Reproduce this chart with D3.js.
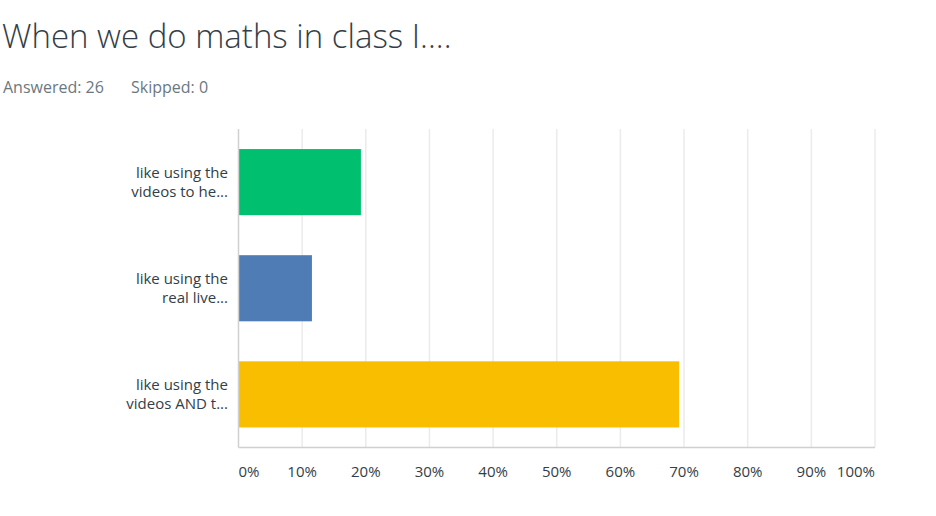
<!DOCTYPE html>
<html>
<head>
<meta charset="utf-8">
<script src="https://cdn.jsdelivr.net/npm/d3@7"></script>
<style>
  body { margin: 0; background: #fff; }
  text { font-family: "Open Sans", "Noto Sans", sans-serif; }
</style>
</head>
<body>
<svg width="936" height="516"></svg>
<script>
// question summary
var title = "When we do maths in class I....";
var answered = 26;
var skipped = 0;

// answer choices (two-line truncated labels, as shown)
var categories = ["videos", "live", "both"];
var labelLines = [
	["like using the", "videos to he..."],
	["like using the", "real live..."],
	["like using the", "videos AND t..."]
];
var counts = [5, 3, 18];
var colors = ["#00bf6f", "#507cb6", "#f9be00"];
var ticks = [0, 0.1, 0.2, 0.3, 0.4, 0.5, 0.6, 0.7, 0.8, 0.9, 1];

var svg = d3.select("svg");

svg.append("text")
	.attr("x", 2)
	.attr("y", 48)
	.attr("fill", "#333e48")
	.style("font-size", "33px")
	.style("font-weight", 300)
	.text(title);

svg.append("text")
	.attr("x", 3)
	.attr("y", 93)
	.attr("fill", "#6b787f")
	.style("font-size", "16px")
	.text("Answered: " + answered);

svg.append("text")
	.attr("x", 131)
	.attr("y", 93)
	.attr("fill", "#6b787f")
	.style("font-size", "16px")
	.text("Skipped: " + skipped);

var plotLeft = 238.5, plotRight = 875, plotTop = 129, plotBottom = 447.5;

var x = d3.scaleLinear().domain([0, 1]).range([plotLeft, plotRight]);
var y = d3.scaleBand()
	.domain(categories)
	.range([plotTop, plotBottom])
	.paddingInner(0.377)
	.paddingOuter(0.189);

// vertical grid
svg.append("g")
	.selectAll("line")
	.data(ticks.slice(1))
	.enter()
	.append("line")
	.attr("x1", function (d) { return x(d); })
	.attr("x2", function (d) { return x(d); })
	.attr("y1", plotTop)
	.attr("y2", plotBottom)
	.attr("stroke", "#ebebeb")
	.attr("stroke-width", 1.5);

// bars
svg.append("g")
	.selectAll("rect")
	.data(counts)
	.enter()
	.append("rect")
	.attr("x", x(0))
	.attr("y", function (d, i) { return y(categories[i]); })
	.attr("width", function (d) { return x(d / answered) - x(0); })
	.attr("height", y.bandwidth())
	.attr("fill", function (d, i) { return colors[i]; });

// axis lines
svg.append("line")
	.attr("x1", plotLeft).attr("x2", plotLeft)
	.attr("y1", plotTop).attr("y2", plotBottom)
	.attr("stroke", "#d0d0d0")
	.attr("stroke-width", 1.5);

svg.append("line")
	.attr("x1", plotLeft).attr("x2", plotRight)
	.attr("y1", plotBottom).attr("y2", plotBottom)
	.attr("stroke", "#d0d0d0")
	.attr("stroke-width", 1.5);

// tick labels
svg.append("g")
	.selectAll("text")
	.data(ticks)
	.enter()
	.append("text")
	.attr("x", function (d) { return x(d); })
	.attr("y", 477)
	.attr("fill", "#333e48")
	.style("font-size", "15px")
	.attr("text-anchor", function (d, i) {
		return i === 0 ? "start" : (i === ticks.length - 1 ? "end" : "middle");
	})
	.text(d3.format(".0%"));

// category labels
var lab = svg.append("g")
	.selectAll("text")
	.data(categories)
	.enter()
	.append("text")
	.attr("text-anchor", "end")
	.attr("fill", "#333e48")
	.style("font-size", "15px");

lab.selectAll("tspan")
	.data(function (d, i) { return labelLines[i]; })
	.enter()
	.append("tspan")
	.attr("x", 228)
	.attr("y", function (d, j) {
		var c = d3.select(this.parentNode).datum();
		return y(c) + y.bandwidth() / 2 - 4 + j * 19;
	})
	.text(function (d) { return d; });
</script>
</body>
</html>
